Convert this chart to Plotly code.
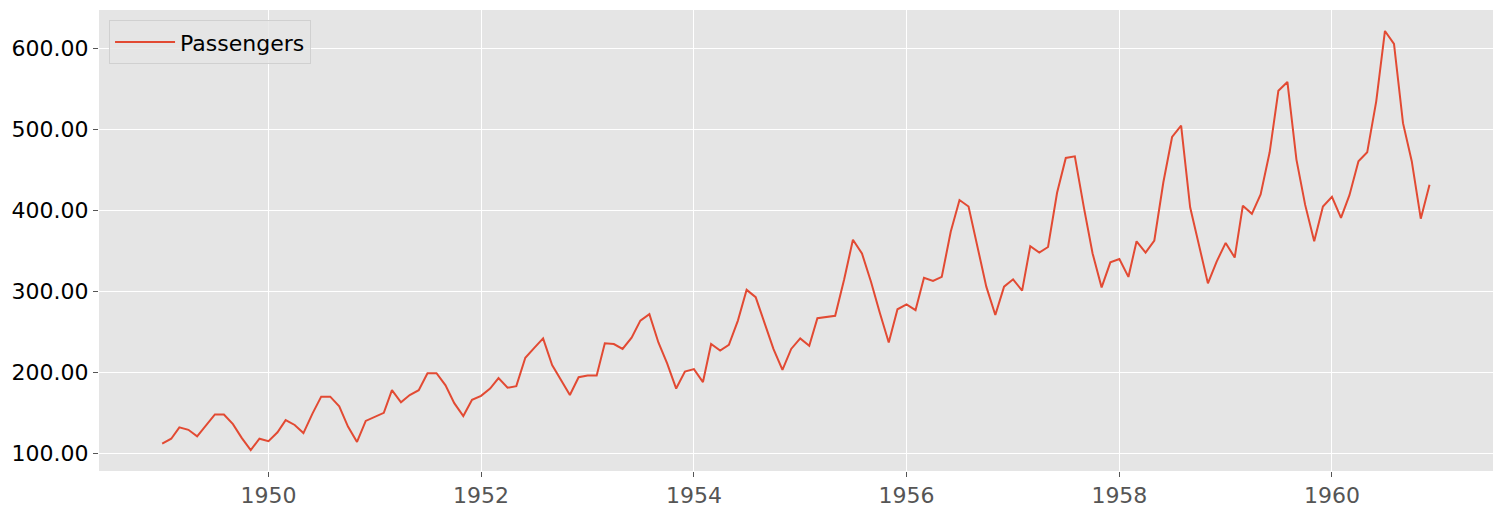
import pandas as pd
import plotly.graph_objects as go

months = pd.date_range("1949-01-01", "1960-12-01", freq="MS")
passengers = [
    112, 118, 132, 129, 121, 135, 148, 148, 136, 119, 104, 118,
    115, 126, 141, 135, 125, 149, 170, 170, 158, 133, 114, 140,
    145, 150, 178, 163, 172, 178, 199, 199, 184, 162, 146, 166,
    171, 180, 193, 181, 183, 218, 230, 242, 209, 191, 172, 194,
    196, 196, 236, 235, 229, 243, 264, 272, 237, 211, 180, 201,
    204, 188, 235, 227, 234, 264, 302, 293, 259, 229, 203, 229,
    242, 233, 267, 269, 270, 315, 364, 347, 312, 274, 237, 278,
    284, 277, 317, 313, 318, 374, 413, 405, 355, 306, 271, 306,
    315, 301, 356, 348, 355, 422, 465, 467, 404, 347, 305, 336,
    340, 318, 362, 348, 363, 435, 491, 505, 404, 359, 310, 337,
    360, 342, 406, 396, 420, 472, 548, 559, 463, 407, 362, 405,
    417, 391, 419, 461, 472, 535, 622, 606, 508, 461, 390, 432,
]
y_ticks = [100, 200, 300, 400, 500, 600]

fig = go.Figure()
fig.add_trace(go.Scatter(
    x=months, y=passengers, mode="lines", name="Passengers",
    line=dict(color="#E24A33", width=2),
))

fig.update_layout(
    width=1502, height=511,
    margin=dict(l=99, r=9, t=10, b=40),
    paper_bgcolor="white",
    plot_bgcolor="#E5E5E5",
    font=dict(family="DejaVu Sans", size=22, color="black"),
    showlegend=True,
    legend=dict(
        x=0.0072, y=0.978, xanchor="left", yanchor="top",
        bgcolor="rgba(229,229,229,0.8)", bordercolor="#D0D0D0", borderwidth=1,
        font=dict(size=22, color="black"),
        itemwidth=60,
    ),
    xaxis=dict(
        type="date",
        range=["1948-05-29", "1961-07-07"],
        dtick="M24", tick0="1950-01-01", tickformat="%Y",
        showgrid=True, gridcolor="white", gridwidth=1,
        ticks="outside", ticklen=5, tickcolor="#555555",
        tickfont=dict(color="#555555", size=22),
        zeroline=False, showline=False, automargin=False,
    ),
    yaxis=dict(
        range=[78.1, 647.9],
        tickvals=y_ticks, tickformat=".2f",
        showgrid=True, gridcolor="white", gridwidth=1,
        ticks="outside", ticklen=5, tickcolor="#555555",
        tickfont=dict(color="black", size=22),
        zeroline=False, showline=False, automargin=False,
    ),
)

fig.write_html("out.html")
